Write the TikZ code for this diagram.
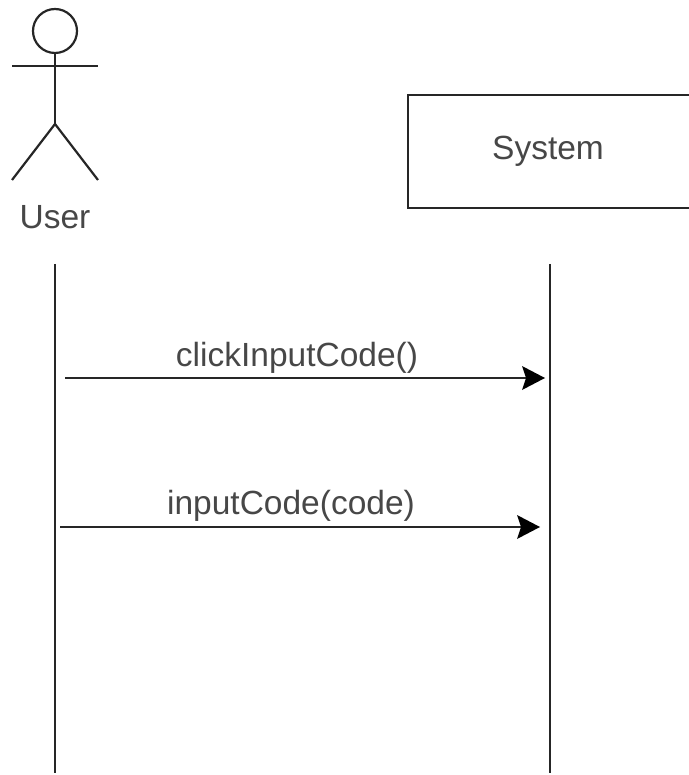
\documentclass[tikz,border=0pt]{standalone}
\usepackage{fontspec}
\setmainfont{Liberation Sans}
\usetikzlibrary{arrows.meta}
\tikzset{
 ln/.style={line width=2.2pt,black!85},
 msg/.style={line width=2.2pt,black!85,-{Stealth[length=23pt,width=24pt,inset=4pt,line width=0pt,fill=black]}},
 lbl/.style={inner sep=0pt,font=\fontsize{33.5}{36}\selectfont,text=black!72},
}
\begin{document}
\begin{tikzpicture}[x=1pt,y=-1pt]
\useasboundingbox (0,0) rectangle (688,775);
% actor
\node[circle,draw,line width=2.2pt,black!85,minimum size=44pt,inner sep=0pt] (head) at (55,31) {};
\coordinate (hip) at (55,124);
\coordinate (armL) at (12,66);
\coordinate (armR) at (98,66);
\coordinate (legL) at (12,180);
\coordinate (legR) at (98,180);
\draw[ln] (head.south) -- (hip);
\draw[ln] (armL) -- (armR);
\draw[ln] (legL) -- (hip) -- (legR);
\node[lbl] (user) at (55,217) {User};
% system box
\draw[ln] (690,95) -- (408,95) -- (408,208) -- (690,208);
\node[lbl] (sys) at (548,151) {System};
% lifelines
\coordinate (u1) at (55,264);
\coordinate (u2) at (55,773);
\coordinate (s1) at (550,264);
\coordinate (s2) at (550,773);
\draw[ln] (u1) -- (u2);
\draw[ln] (s1) -- (s2);
% messages
\coordinate (m1a) at (65,378);
\coordinate (m1b) at (545,378);
\coordinate (m2a) at (60,527);
\coordinate (m2b) at (540,527);
\draw[msg] (m1a) -- (m1b);
\draw[msg] (m2a) -- (m2b);
\node[lbl] (l1) at (297,358) {clickInputCode()};
\node[lbl] (l2) at (291,506) {inputCode(code)};
\end{tikzpicture}
\end{document}
